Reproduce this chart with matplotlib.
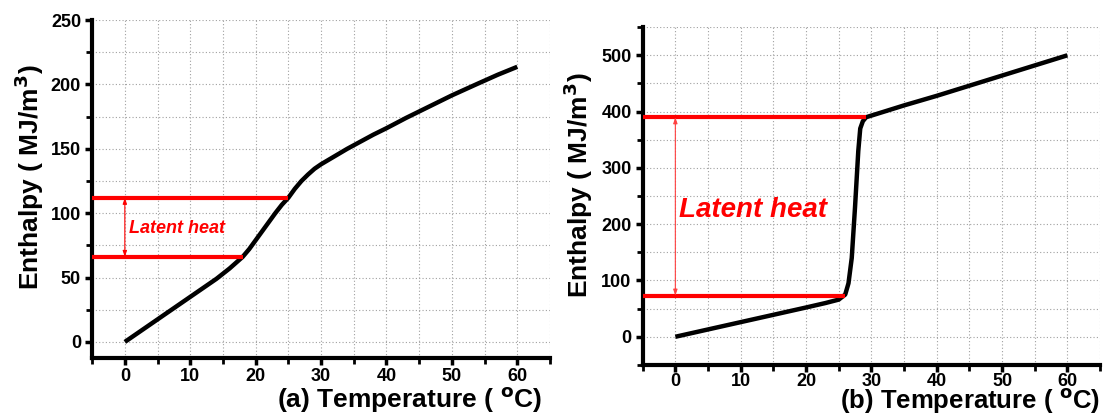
import matplotlib
matplotlib.use("Agg")
import matplotlib.pyplot as plt
from matplotlib.ticker import MultipleLocator

plt.rcParams['font.family'] = ['Liberation Sans', 'DejaVu Sans']
plt.rcParams['font.weight'] = 'bold'
plt.rcParams['mathtext.default'] = 'regular'

# panel (a): gradual phase change
temp_a = [0, 2, 4, 6, 8, 10, 12, 14, 16, 17, 18, 19, 20, 21, 22, 23, 24, 25, 26, 27, 28, 29, 30,
          32, 34, 36, 38, 40, 43, 46, 50, 54, 57, 60]
enth_a = [0, 7, 14, 21, 28, 35, 42, 49, 57, 61.5, 66, 72, 79, 86, 93, 100, 106.5, 112, 119, 125, 130,
          134.5, 138, 144, 150, 155.5, 161, 166, 174, 181.5, 191.5, 200.7, 207.5, 213.7]
latent_a = [66, 112]        # lower / upper enthalpy of the phase change
latent_end_a = [18, 25]     # temperatures where the red lines stop

# panel (b): sharp phase change
temp_b = [0, 5, 10, 15, 20, 23, 25, 26, 26.5, 27, 27.5, 28, 28.3, 28.7, 29.2, 35, 40, 45, 50, 55, 60]
enth_b = [0, 13, 26, 39, 52, 60, 66, 75, 95, 140, 230, 330, 370, 383, 390, 411, 428, 446, 464, 482, 500]
latent_b = [73, 390]
latent_end_b = [26, 29.2]

fig = plt.figure(figsize=(11.1, 4.18), dpi=100)
ax_a = fig.add_axes([0.083, 0.1435, 0.4125, 0.8085])
ax_b = fig.add_axes([0.579, 0.127, 0.412, 0.808])


def style_axes(ax, ylim, ymajor, yminor):
    ax.set_xlim(-5, 65)
    ax.set_ylim(*ylim)
    ax.xaxis.set_major_locator(MultipleLocator(10))
    ax.xaxis.set_minor_locator(MultipleLocator(5))
    ax.yaxis.set_major_locator(MultipleLocator(ymajor))
    ax.yaxis.set_minor_locator(MultipleLocator(yminor))
    ax.spines['top'].set_visible(False)
    ax.spines['right'].set_visible(False)
    for s in ('left', 'bottom'):
        ax.spines[s].set_linewidth(3)
    ax.tick_params(which='major', direction='out', length=5, width=2.5, labelsize=13, pad=3)
    ax.tick_params(which='minor', direction='out', length=4, width=2)
    for lab in ax.get_xticklabels() + ax.get_yticklabels():
        lab.set_fontweight('bold')
    ax.grid(True, which='both', linestyle=(0, (1, 2)), color='#a0a0a0', linewidth=0.8)
    ax.set_axisbelow(True)


style_axes(ax_a, (-12.5, 250), 50, 25)
style_axes(ax_b, (-50, 550), 100, 50)
ax_a.tick_params(axis='x', which='major', pad=2)
ax_b.tick_params(axis='x', which='major', pad=1)

# (a)
ax_a.plot(temp_a, enth_a, color='black', lw=3.2, solid_capstyle='butt', zorder=3)
for h, t in zip(latent_a, latent_end_a):
    ax_a.plot([-5, t], [h, h], color='red', lw=3, solid_capstyle='butt', zorder=4, clip_on=False)
ax_a.annotate('', xy=(0, latent_a[1]), xytext=(0, latent_a[0]),
              arrowprops=dict(arrowstyle='<|-|>,head_length=0.35,head_width=0.12', color='red', lw=0.8,
                              shrinkA=0, shrinkB=0), zorder=5)
ax_a.text(0.7, 88, 'Latent heat', color='red', fontsize=13, fontstyle='italic', fontweight='bold',
          ha='left', va='center')

# (b)
ax_b.plot(temp_b, enth_b, color='black', lw=3.2, solid_capstyle='butt', zorder=3)
for h, t in zip(latent_b, latent_end_b):
    ax_b.plot([-5, t], [h, h], color='red', lw=3, solid_capstyle='butt', zorder=4, clip_on=False)
ax_b.annotate('', xy=(0, latent_b[1]), xytext=(0, latent_b[0]),
              arrowprops=dict(arrowstyle='<|-|>,head_length=0.35,head_width=0.12', color='#ff4040', lw=0.8,
                              shrinkA=0, shrinkB=0), zorder=5)
ax_b.text(0.5, 226, 'Latent heat', color='red', fontsize=20, fontstyle='italic', fontweight='bold',
          ha='left', va='center')

# axis titles
ylab = 'Enthalpy ( MJ/m$^\\mathbf{3}$)'
fig.text(0.027, 0.575, ylab, rotation=90, fontsize=19, fontweight='bold', ha='center', va='center')
fig.text(0.521, 0.557, ylab, rotation=90, fontsize=19, fontweight='bold', ha='center', va='center')
fig.text(0.4883, 0.008, '(a) Temperature ( $^\\mathbf{o}$C)', fontsize=19, fontweight='bold',
         ha='right', va='bottom')
fig.text(0.991, 0.004, '(b) Temperature ( $^\\mathbf{o}$C)', fontsize=18.5, fontweight='bold',
         ha='right', va='bottom')

fig.savefig('out.png', dpi=100)
